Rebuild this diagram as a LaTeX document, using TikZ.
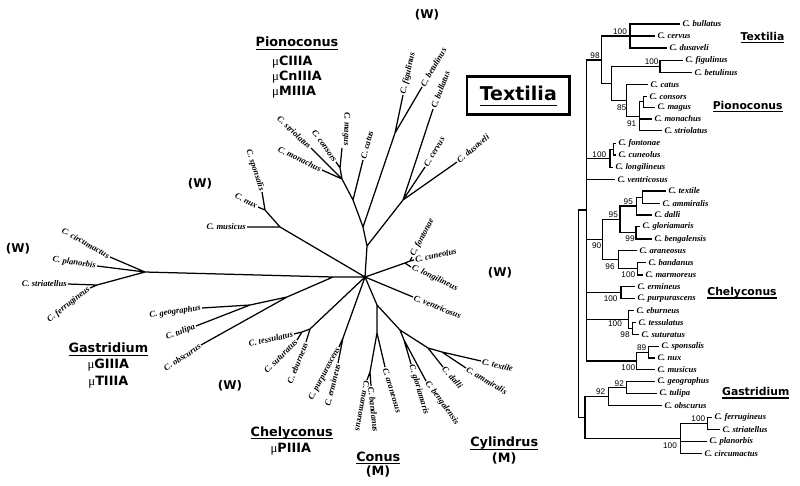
\documentclass[tikz,border=0pt]{standalone}
\usepackage{fontspec}
\setmainfont{Liberation Serif}
\newfontfamily\hdfont{DejaVu Sans}
\newfontfamily\spfont{Liberation Serif}
\newfontfamily\numfont{Liberation Sans}
\newsavebox\ulbox
\newcommand\ulin[2][3.4pt]{\sbox\ulbox{#2}\rlap{\rule[-#1]{\wd\ulbox}{1.2pt}}\usebox\ulbox}
\newcommand\mymu{{\spfont\mdseries\upshape μ}}
\begin{document}
\begin{tikzpicture}[x=1pt,y=-1pt,
 br/.style={line width=1.25pt},
 sp/.style={font=\spfont\bfseries\itshape\fontsize{8.6}{9}\selectfont, inner sep=1.1pt},
 rl/.style={sp, anchor=west, xshift=1.2pt},
 bs/.style={font=\numfont\fontsize{8.2}{9}\selectfont, inner sep=0pt},
 hd/.style={font=\hdfont\bfseries\fontsize{12.8}{14}\selectfont, inner sep=0pt},
 hr/.style={font=\hdfont\bfseries\fontsize{10.8}{12}\selectfont, inner sep=0pt, anchor=base},
 wl/.style={font=\hdfont\bfseries\fontsize{12}{14}\selectfont, inner sep=0pt}]
\useasboundingbox (0,0) rectangle (800,485);

% ---------------- left unrooted tree ----------------
\coordinate (lH) at (365,277);
\coordinate (lA) at (367,246);
\coordinate (lB) at (363,227);
\coordinate (lT) at (403,200);
\coordinate (lbul) at (433,109);
\coordinate (lcer) at (425,167);
\coordinate (ldus) at (457,162);
\coordinate (lFB) at (395,133);
\coordinate (lfig) at (403,95);
\coordinate (lbet) at (422,87);
\coordinate (lP1) at (353,200);
\coordinate (lcat) at (363,160);
\coordinate (lPM) at (342,179);
\coordinate (lstr) at (311,148);
\coordinate (lmon) at (322,170);
\coordinate (lCM) at (340,168);
\coordinate (lcon) at (336,162);
\coordinate (lmag) at (342,148);
\coordinate (lM) at (280,227);
\coordinate (lN) at (265,210);
\coordinate (lmus) at (247,227);
\coordinate (lnux) at (258,207);
\coordinate (lspo) at (262,192);
\coordinate (lJ) at (333,277);
\coordinate (lG1) at (145,272);
\coordinate (lcir) at (110,257);
\coordinate (lpla) at (97,266);
\coordinate (lFS) at (97,285);
\coordinate (lsti) at (68,284);
\coordinate (lfer) at (90,288);
\coordinate (lGt) at (287,297);
\coordinate (lobs) at (201,345);
\coordinate (lGg) at (250,305);
\coordinate (lgeo) at (202,308);
\coordinate (ltul) at (196,326);
\coordinate (lC1) at (310,329);
\coordinate (lC2) at (302,332);
\coordinate (lebu) at (306,342);
\coordinate (ltes) at (294,334);
\coordinate (lsat) at (297,340);
\coordinate (lP) at (343,338);
\coordinate (lpur) at (339,347);
\coordinate (lerm) at (338,363);
\coordinate (lK) at (377,305);
\coordinate (lCn) at (377,333);
\coordinate (lMB) at (370,372);
\coordinate (lmar) at (367,380);
\coordinate (lban) at (371,386);
\coordinate (lara) at (385,367);
\coordinate (lCy) at (400,330);
\coordinate (lGB) at (404,340);
\coordinate (lglo) at (411,364);
\coordinate (lben) at (426,381);
\coordinate (lD) at (428,348);
\coordinate (ldal) at (443,367);
\coordinate (lTA) at (442,352);
\coordinate (ltex) at (481,361);
\coordinate (lamm) at (466,368);
\coordinate (lF) at (405,263);
\coordinate (lF2) at (410,261);
\coordinate (lfon) at (412,257);
\coordinate (lcun) at (414,260);
\coordinate (llon) at (411,267);
\coordinate (lven) at (413,297);

\draw[br] (lH) -- (lA) (lA) -- (lB) (lA) -- (lT) (lB) -- (lFB) (lB) -- (lP1)
 (lT) -- (lbul) (lT) -- (lcer) (lT) -- (ldus) (lFB) -- (lfig) (lFB) -- (lbet)
 (lP1) -- (lcat) (lP1) -- (lPM) (lPM) -- (lstr) (lPM) -- (lmon) (lPM) -- (lCM)
 (lCM) -- (lcon) (lCM) -- (lmag)
 (lH) -- (lM) (lM) -- (lmus) (lM) -- (lN) (lN) -- (lnux) (lN) -- (lspo)
 (lH) -- (lJ) (lJ) -- (lG1) (lG1) -- (lcir) (lG1) -- (lpla) (lG1) -- (lFS)
 (lFS) -- (lsti) (lFS) -- (lfer) (lJ) -- (lGt) (lGt) -- (lobs) (lGt) -- (lGg)
 (lGg) -- (lgeo) (lGg) -- (ltul)
 (lH) -- (lC1) (lC1) -- (lC2) (lC1) -- (lebu) (lC2) -- (ltes) (lC2) -- (lsat)
 (lH) -- (lP) (lP) -- (lpur) (lP) -- (lerm)
 (lH) -- (lK) (lK) -- (lCn) (lCn) -- (lMB) (lMB) -- (lmar) (lMB) -- (lban) (lCn) -- (lara)
 (lK) -- (lCy) (lCy) -- (lGB) (lGB) -- (lglo) (lGB) -- (lben) (lCy) -- (lD)
 (lD) -- (ldal) (lD) -- (lTA) (lTA) -- (ltex) (lTA) -- (lamm)
 (lH) -- (lF) (lF) -- (lF2) (lF2) -- (lfon) (lF2) -- (lcun) (lF) -- (llon)
 (lH) -- (lven);

\node[sp,anchor=west,rotate=77] (Lfig) at (lfig) {C. figulinus};
\node[sp,anchor=west,rotate=60] (Lbet) at (lbet) {C. betulinus};
\node[sp,anchor=west,rotate=69] (Lbul) at (lbul) {C. bullatus};
\node[sp,anchor=west,rotate=59] (Lcer) at (lcer) {C. cervus};
\node[sp,anchor=west,rotate=40] (Ldus) at (ldus) {C. dusaveli};
\node[sp,anchor=west,rotate=75] (Lcat) at (lcat) {C. catus};
\node[sp,anchor=east,rotate=-91] (Lmag) at ([xshift=4pt,yshift=1pt]lmag) {C. magus};
\node[sp,anchor=east,rotate=-55] (Lcon) at (lcon) {C. consors};
\node[sp,anchor=east,rotate=-43] (Lstr) at (lstr) {C. striolatus};
\node[sp,anchor=east,rotate=-26] (Lmon) at (lmon) {C. monachus};
\node[sp,anchor=east,rotate=-72] (Lspo) at (lspo) {C. sponsalis};
\node[sp,anchor=east,rotate=-28] (Lnux) at (lnux) {C. nux};
\node[sp,anchor=east] (Lmus) at (lmus) {C. musicus};
\node[sp,anchor=east,rotate=-30] (Lcir) at (lcir) {C. circumactus};
\node[sp,anchor=east,rotate=-8] (Lpla) at (lpla) {C. planorbis};
\node[sp,anchor=east] (Lsti) at (lsti) {C. striatellus};
\node[sp,anchor=east,rotate=38] (Lfer) at (lfer) {C. ferrugineus};
\node[sp,anchor=east,rotate=8] (Lgeo) at (lgeo) {C. geographus};
\node[sp,anchor=east,rotate=22] (Ltul) at (ltul) {C. tulipa};
\node[sp,anchor=east,rotate=33] (Lobs) at (lobs) {C. obscurus};
\node[sp,anchor=east,rotate=12] (Ltes) at (ltes) {C. tessulatus};
\node[sp,anchor=east,rotate=45] (Lsat) at (lsat) {C. suturatus};
\node[sp,anchor=east,rotate=68] (Lebu) at (lebu) {C. eburneus};
\node[sp,anchor=east,rotate=62] (Lpur) at (lpur) {C. purpurascens};
\node[sp,anchor=east,rotate=76] (Lerm) at (lerm) {C. ermineus};
\node[sp,anchor=west,rotate=-100] (Lmar) at (lmar) {C. marmoreus};
\node[sp,anchor=west,rotate=-84] (Lban) at (lban) {C. bandanus};
\node[sp,anchor=west,rotate=-73] (Lara) at (lara) {C. araneosus};
\node[sp,anchor=west,rotate=-73] (Lglo) at (lglo) {C. gloriamaris};
\node[sp,anchor=west,rotate=-54] (Lben) at (lben) {C. bengalensis};
\node[sp,anchor=west,rotate=-48] (Ldal) at (ldal) {C. dalli};
\node[sp,anchor=west,rotate=-31] (Lamm) at (lamm) {C. ammiralis};
\node[sp,anchor=west,rotate=-14] (Ltex) at (ltex) {C. textile};
\node[sp,anchor=west,rotate=-22] (Lven) at (lven) {C. ventricosus};
\node[sp,anchor=west,rotate=-25] (Llon) at (llon) {C. longilineus};
\node[sp,anchor=west,rotate=12] (Lcun) at (lcun) {C. cuneolus};
\node[sp,anchor=west,rotate=62] (Lfon) at (lfon) {C. fontonae};

% (W) marks
\node[wl] (w1) at (427,15) {(W)};
\node[wl] (w2) at (18,249) {(W)};
\node[wl] (w3) at (200,184) {(W)};
\node[wl] (w4) at (500,273) {(W)};
\node[wl] (w5) at (230,386) {(W)};

% left clade labels
\node[hd,anchor=base] (cPion) at (297,46.7) {\ulin{Pionoconus}};
\node[hd,anchor=base west] (mu1) at (272,65) {\mymu CIIIA};
\node[hd,anchor=base west] (mu2) at (272,80.7) {\mymu CnIIIA};
\node[hd,anchor=base west] (mu3) at (272,95.7) {\mymu MIIIA};
\node[hd,anchor=base] (cGas) at (108.3,352.7) {\ulin{Gastridium}};
\node[hd,anchor=base] (mu4) at (108.3,368.3) {\mymu GIIIA};
\node[hd,anchor=base] (mu5) at (108.3,385) {\mymu TIIIA};
\node[hd,anchor=base] (cChe) at (291.7,436) {\ulin{Chelyconus}};
\node[hd,anchor=base] (mu6) at (290.8,452.3) {\mymu PIIIA};
\node[hd,anchor=base] (cCon) at (378.3,461) {\ulin{Conus}};
\node[hd,anchor=base] (m1) at (378,475.5) {(M)};
\node[hd,anchor=base] (cCyl) at (504.2,446.7) {\ulin{Cylindrus}};
\node[hd,anchor=base] (m2) at (504.2,462) {(M)};

% Textilia box
\node[draw,line width=2.5pt,minimum width=102.4pt,minimum height=38.1pt,inner sep=0pt] (tbox) at (518.2,95.35) {};
\node[font=\hdfont\bfseries\fontsize{19}{22}\selectfont,inner sep=0pt,anchor=base] (ttex) at (518.3,100.7) {\ulin[5.6pt]{Textilia}};

% ---------------- right rectangular tree ----------------
\coordinate (rR) at (578.3,313.8);
\coordinate (rY) at (586.7,210);
\coordinate (rZ) at (585,417.5);
\coordinate (r98) at (601.7,60);
\coordinate (rTex) at (630,36);
\coordinate (rbul) at (680,24);
\coordinate (rcer) at (655,36);
\coordinate (rdus) at (667,48);
\coordinate (r611) at (611.7,83.5);
\coordinate (rFB) at (660,66.5);
\coordinate (rfig) at (683,60.7);
\coordinate (rbet) at (692,72.3);
\coordinate (r85) at (626.7,100.5);
\coordinate (rcat) at (648,84.3);
\coordinate (r91) at (639.3,116.2);
\coordinate (rCM) at (643.3,101.8);
\coordinate (rcon) at (647,96.3);
\coordinate (rmag) at (655,107.3);
\coordinate (rmon) at (652,119);
\coordinate (rstr) at (662,130.7);
\coordinate (rFC) at (610,158.2);
\coordinate (rF2) at (613.3,149.2);
\coordinate (rfon) at (616,143.3);
\coordinate (rcun) at (616,155);
\coordinate (rlon) at (613,167.3);
\coordinate (rven) at (615,179.3);
\coordinate (r90) at (602.7,239.6);
\coordinate (rO95) at (620,219.5);
\coordinate (rI95) at (636.7,206.1);
\coordinate (rTA) at (642.7,197.2);
\coordinate (rtex) at (666,191);
\coordinate (ramm) at (660,203.3);
\coordinate (rdal) at (652,215);
\coordinate (rGB) at (636,232.8);
\coordinate (rglo) at (640,226.7);
\coordinate (rben) at (652,239);
\coordinate (r96) at (618.3,259.7);
\coordinate (rara) at (637,250.7);
\coordinate (rMB) at (637.3,268.7);
\coordinate (rban) at (646,262.3);
\coordinate (rmar) at (643,275);
\coordinate (rEP) at (621,292.5);
\coordinate (rerm) at (635,286.7);
\coordinate (rpur) at (635,298.3);
\coordinate (rEB) at (628.3,319.7);
\coordinate (rebu) at (634,310.7);
\coordinate (rTS) at (632.7,328.7);
\coordinate (rtes) at (636,322.7);
\coordinate (rsat) at (639,334.7);
\coordinate (rSM) at (636.7,361);
\coordinate (rSN) at (648.3,352.3);
\coordinate (rspo) at (659,346.7);
\coordinate (rnux) at (655,358);
\coordinate (rmus) at (655,369.7);
\coordinate (rG92) at (608.3,396.6);
\coordinate (rGT) at (626.7,387.5);
\coordinate (rgeo) at (655,381.7);
\coordinate (rtul) at (657,393.3);
\coordinate (robs) at (662,405.7);
\coordinate (rFP) at (680.7,438.4);
\coordinate (rFS) at (707.7,423.5);
\coordinate (rfer) at (712,417.7);
\coordinate (rsti) at (720,429.3);
\coordinate (rpla) at (707,441.3);
\coordinate (rcir) at (702,453.3);

\draw[br] (rR) |- (rY) (rR) |- (rZ)
 (rY) |- (r98) (rY) |- (rFC) (rY) |- (rven) (rY) |- (r90) (rY) |- (rEP) (rY) |- (rEB) (rY) |- (rSM)
 (r98) |- (rTex) (r98) |- (r611)
 (rTex) |- (rbul) (rTex) |- (rcer) (rTex) |- (rdus)
 (r611) |- (rFB) (r611) |- (r85)
 (rFB) |- (rfig) (rFB) |- (rbet)
 (r85) |- (rcat) (r85) |- (r91)
 (r91) |- (rCM) (r91) |- (rmon) (r91) |- (rstr)
 (rCM) |- (rcon) (rCM) |- (rmag)
 (rFC) |- (rF2) (rFC) |- (rlon) (rF2) |- (rfon) (rF2) |- (rcun)
 (r90) |- (rO95) (r90) |- (r96)
 (rO95) |- (rI95) (rO95) |- (rGB)
 (rI95) |- (rTA) (rI95) |- (rdal) (rTA) |- (rtex) (rTA) |- (ramm)
 (rGB) |- (rglo) (rGB) |- (rben)
 (r96) |- (rara) (r96) |- (rMB) (rMB) |- (rban) (rMB) |- (rmar)
 (rEP) |- (rerm) (rEP) |- (rpur)
 (rEB) |- (rebu) (rEB) |- (rTS) (rTS) |- (rtes) (rTS) |- (rsat)
 (rSM) |- (rSN) (rSM) |- (rmus) (rSN) |- (rspo) (rSN) |- (rnux)
 (rZ) |- (rG92) (rZ) |- (rFP)
 (rG92) |- (rGT) (rG92) |- (robs) (rGT) |- (rgeo) (rGT) |- (rtul)
 (rFP) |- (rFS) (rFP) |- (rpla) (rFP) |- (rcir) (rFS) |- (rfer) (rFS) |- (rsti);

\node[rl] (Rbul) at (rbul) {C. bullatus};
\node[rl] (Rcer) at (rcer) {C. cervus};
\node[rl] (Rdus) at (rdus) {C. dusaveli};
\node[rl] (Rfig) at (rfig) {C. figulinus};
\node[rl] (Rbet) at (rbet) {C. betulinus};
\node[rl] (Rcat) at (rcat) {C. catus};
\node[rl] (Rcon) at (rcon) {C. consors};
\node[rl] (Rmag) at (rmag) {C. magus};
\node[rl] (Rmon) at (rmon) {C. monachus};
\node[rl] (Rstr) at (rstr) {C. striolatus};
\node[rl] (Rfon) at (rfon) {C. fontonae};
\node[rl] (Rcun) at (rcun) {C. cuneolus};
\node[rl] (Rlon) at (rlon) {C. longilineus};
\node[rl] (Rven) at (rven) {C. ventricosus};
\node[rl] (Rtex) at (rtex) {C. textile};
\node[rl] (Ramm) at (ramm) {C. ammiralis};
\node[rl] (Rdal) at (rdal) {C. dalli};
\node[rl] (Rglo) at (rglo) {C. gloriamaris};
\node[rl] (Rben) at (rben) {C. bengalensis};
\node[rl] (Rara) at (rara) {C. araneosus};
\node[rl] (Rban) at (rban) {C. bandanus};
\node[rl] (Rmar) at (rmar) {C. marmoreus};
\node[rl] (Rerm) at (rerm) {C. ermineus};
\node[rl] (Rpur) at (rpur) {C. purpurascens};
\node[rl] (Rebu) at (rebu) {C. eburneus};
\node[rl] (Rtes) at (rtes) {C. tessulatus};
\node[rl] (Rsat) at (rsat) {C. suturatus};
\node[rl] (Rspo) at (rspo) {C. sponsalis};
\node[rl] (Rnux) at (rnux) {C. nux};
\node[rl] (Rmus) at (rmus) {C. musicus};
\node[rl] (Rgeo) at (rgeo) {C. geographus};
\node[rl] (Rtul) at (rtul) {C. tulipa};
\node[rl] (Robs) at (robs) {C. obscurus};
\node[rl] (Rfer) at (rfer) {C. ferrugineus};
\node[rl] (Rsti) at (rsti) {C. striatellus};
\node[rl] (Rpla) at (rpla) {C. planorbis};
\node[rl] (Rcir) at (rcir) {C. circumactus};

% bootstrap values
\node[bs] (b01) at (620,31.7) {100};
\node[bs] (b02) at (595,56) {98};
\node[bs] (b03) at (651.7,61.7) {100};
\node[bs] (b04) at (621.7,107.3) {85};
\node[bs] (b05) at (631.7,123.3) {91};
\node[bs] (b06) at (599.3,155) {100};
\node[bs] (b07) at (628.3,201.7) {95};
\node[bs] (b08) at (613.3,215) {95};
\node[bs] (b09) at (630,239) {99};
\node[bs] (b10) at (596.7,246) {90};
\node[bs] (b11) at (610,266.7) {96};
\node[bs] (b12) at (628.3,275) {100};
\node[bs] (b13) at (610.7,298.3) {100};
\node[bs] (b14) at (615,323.3) {100};
\node[bs] (b15) at (625,335) {98};
\node[bs] (b16) at (641.7,347.3) {89};
\node[bs] (b17) at (628.3,367.7) {100};
\node[bs] (b18) at (619.3,383.3) {92};
\node[bs] (b19) at (600.7,391.7) {92};
\node[bs] (b20) at (698.3,418.3) {100};
\node[bs] (b21) at (670,446) {100};

% right clade labels
\node[hr] (cTexR) at (762.5,40) {\ulin[2.9pt]{Textilia}};
\node[hr] (cPionR) at (747.7,109.3) {\ulin[2.9pt]{Pionoconus}};
\node[hr] (cCheR) at (742,295.7) {\ulin[2.9pt]{Chelyconus}};
\node[hr] (cGasR) at (755.7,395.7) {\ulin[2.9pt]{Gastridium}};
\end{tikzpicture}
\end{document}
